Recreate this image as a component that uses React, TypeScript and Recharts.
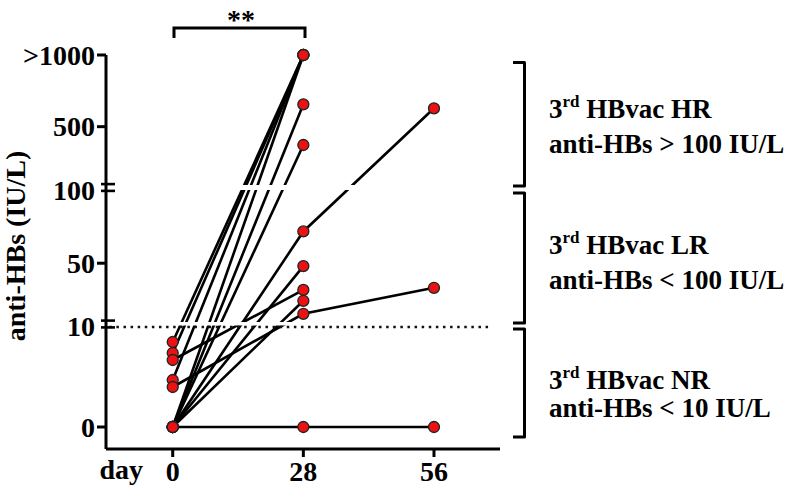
import { Line, LineChart, ReferenceArea, ReferenceLine, XAxis, YAxis } from "recharts";

// anti-HBs titres per subject (IU/L); >1000 is plotted at 1000, null = not measured
const day0 = [8.5, 7.4, 6.7, 4.7, 4.0, 0, 0, 0, 0, 0, 0, 0];
const day28 = [1000, 1000, 31.5, 1000, 15, 1000, 656, 372, 72, 48, 24, 0];
const day56: (number | null)[] = [null, null, null, null, 33, null, null, null, 628, null, null, 0];

const xTicks = [0, 28, 56];
const yTickValues = [0, 10, 50, 100, 500, 1000];
const yTickLabels = ["0", "10", "50", "100", "500", ">1000"];

const FONT = "'Liberation Serif', 'Times New Roman', serif";
const DOT_FILL = "#ee1111";

// broken axis: 0-10, 10-100 and 100-1000 are each linear, with small gaps at 10 and 100
function toAxis(v: number) {
  if (v <= 10) return v * 10;
  if (v <= 100) return 106 + ((v - 10) / 90) * 130;
  return 243 + ((v - 100) / 900) * 129;
}

function tickPos(v: number) {
  if (v === 10) return 103;
  if (v === 100) return 239.5;
  return toAxis(v);
}

const yTickPos = yTickValues.map(tickPos);

const subjects = day0.map((v0, i) => {
  const pts = [
    { day: 0, y: toAxis(v0) },
    { day: 28, y: toAxis(day28[i]) },
  ];
  const v56 = day56[i];
  if (v56 != null) pts.push({ day: 56, y: toAxis(v56) });
  return pts;
});

function YTick(props: any) {
  const { x, y, payload } = props;
  const i = yTickPos.findIndex((p) => Math.abs(p - payload.value) < 0.01);
  const v = yTickValues[i];
  const isBreak = v === 10 || v === 100;
  return (
    <g>
      {isBreak ? (
        <>
          <line x1={x + 6} x2={x + 20} y1={y - 3.4} y2={y - 3.4} stroke="#000" strokeWidth={2.6} />
          <line x1={x + 6} x2={x + 20} y1={y + 3.4} y2={y + 3.4} stroke="#000" strokeWidth={2.6} />
        </>
      ) : (
        <line x1={x + 2} x2={x + 11} y1={y} y2={y} stroke="#000" strokeWidth={3} />
      )}
      <text
        x={x}
        y={y}
        dy={isBreak ? 12 : 9.5}
        textAnchor="end"
        fontFamily={FONT}
        fontWeight="bold"
        fontSize={28}
        fill="#000"
      >
        {yTickLabels[i]}
      </text>
    </g>
  );
}

function XTick(props: any) {
  const { x, y, payload } = props;
  return (
    <text x={x} y={y} dy={22} textAnchor="middle" fontFamily={FONT} fontWeight="bold" fontSize={28} fill="#000">
      {payload.value}
    </text>
  );
}

function Bracket({ top, bottom }: { top: number; bottom: number }) {
  return (
    <path
      d={`M513,${top} H524.5 V${bottom} H513`}
      fill="none"
      stroke="#000"
      strokeWidth={3}
      strokeLinejoin="round"
    />
  );
}

function GroupText({ y1, y2, code, limit }: { y1: number; y2: number; code: string; limit: string }) {
  return (
    <g fontFamily={FONT} fontWeight="bold" fill="#000">
      <text x={549} y={y1} fontSize={27}>
        3<tspan fontSize={17} dy={-11}>rd</tspan>
        <tspan dy={11}> HBvac {code}</tspan>
      </text>
      <text x={549} y={y2} fontSize={27}>
        anti-HBs {limit}
      </text>
    </g>
  );
}

export default function App() {
  return (
    <div style={{ position: "absolute", left: 0, top: 0, width: 797, height: 498, background: "#fff" }}>
      <LineChart width={797} height={498} margin={{ top: 55, right: 297, bottom: 0, left: 0 }}>
        <XAxis
          type="number"
          dataKey="day"
          domain={[-14.3, 70.15]}
          ticks={xTicks}
          interval={0}
          height={49}
          axisLine={{ stroke: "#000", strokeWidth: 3 }}
          tickLine={{ stroke: "#000", strokeWidth: 3 }}
          tickSize={8}
          tick={<XTick />}
        />
        <YAxis
          type="number"
          dataKey="y"
          domain={[-22, 372]}
          ticks={yTickPos}
          interval={0}
          width={106}
          axisLine={{ stroke: "#000", strokeWidth: 3 }}
          tickLine={false}
          tickSize={9}
          tickMargin={2}
          tick={<YTick />}
        />
        {subjects.map((pts, i) => (
          <Line
            key={`dots-${i}`}
            data={pts}
            dataKey="y"
            stroke="none"
            dot={{ r: 5.5, fill: DOT_FILL, stroke: "#1b2626", strokeWidth: 1.3 }}
            activeDot={false}
            isAnimationActive={false}
          />
        ))}
        {subjects.map((pts, i) => (
          <Line
            key={`line-${i}`}
            data={pts}
            dataKey="y"
            stroke="#000"
            strokeWidth={2.6}
            dot={false}
            activeDot={false}
            isAnimationActive={false}
          />
        ))}
        <ReferenceArea
          x1={-13.9}
          x2={70.15}
          y1={237}
          y2={242}
          fill="#fff"
          fillOpacity={1}
          stroke="none"
          zIndex={450}
        />
        <ReferenceArea
          x1={-13.9}
          x2={70.15}
          y1={101.5}
          y2={105}
          fill="#fff"
          fillOpacity={1}
          stroke="none"
          zIndex={450}
        />
        <ReferenceLine
          segment={[
            { x: -13.6, y: 100 },
            { x: 68.4, y: 100 },
          ]}
          stroke="#111"
          strokeWidth={2.5}
          strokeDasharray="2.5 4.6"
          zIndex={460}
        />
      </LineChart>
      <svg width={797} height={498} style={{ position: "absolute", left: 0, top: 0, pointerEvents: "none" }}>
        <g fontFamily={FONT} fontWeight="bold" fill="#000">
          <text transform="translate(25,246) rotate(-90)" textAnchor="middle" fontSize={28}>
            anti-HBs (IU/L)
          </text>
          <text x={143} y={479} textAnchor="end" fontSize={28}>
            day
          </text>
          <text x={241} y={29} textAnchor="middle" fontSize={28}>
            **
          </text>
        </g>
        <path d="M174,38 V28 H305 V38" fill="none" stroke="#000" strokeWidth={3} />
        <Bracket top={62.5} bottom={186} />
        <Bracket top={193} bottom={323} />
        <Bracket top={329} bottom={437} />
        <GroupText y1={118} y2={153} code="HR" limit="> 100 IU/L" />
        <GroupText y1={254} y2={289} code="LR" limit="< 100 IU/L" />
        <GroupText y1={389} y2={417} code="NR" limit="< 10 IU/L" />
      </svg>
    </div>
  );
}
